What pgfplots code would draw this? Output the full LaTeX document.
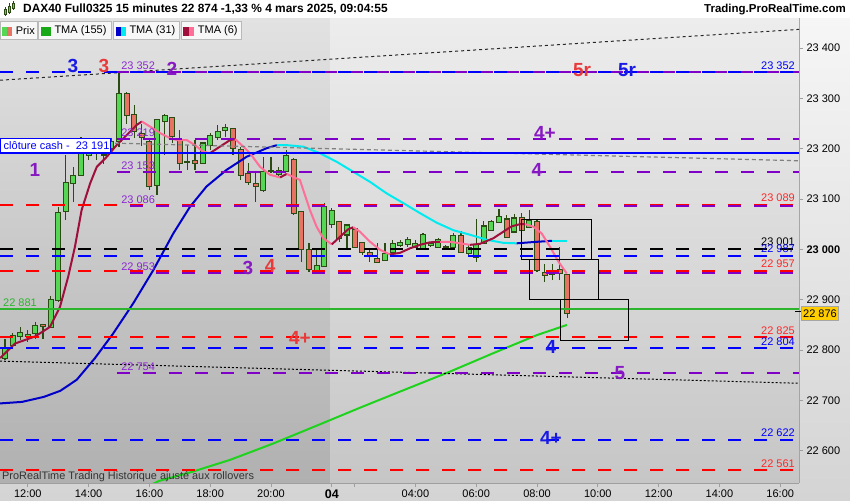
\documentclass[border=0pt]{standalone}
\usepackage{pgfplots}
\pgfplotsset{compat=1.18}
\usepackage{pgfplotstable}
\usepackage{fontspec}
\setmainfont{Liberation Sans}
\definecolor{lvblue}{RGB}{0,0,255}
\definecolor{lvred}{RGB}{255,0,0}
\definecolor{lvpurple}{RGB}{128,0,200}
\definecolor{txblue}{RGB}{25,25,230}
\definecolor{txred}{RGB}{232,58,58}
\definecolor{txpurple}{RGB}{135,25,195}
\definecolor{lbpurple}{RGB}{140,40,210}
\definecolor{lbred}{RGB}{255,40,40}
\definecolor{lvgreen}{RGB}{45,180,45}
\definecolor{wick}{RGB}{42,75,18}
\definecolor{cgreen}{RGB}{85,215,85}
\definecolor{cred}{RGB}{230,115,100}
\definecolor{tmagreen}{RGB}{30,210,30}
\definecolor{tmablue}{RGB}{0,0,200}
\definecolor{tmacyan}{RGB}{0,235,240}
\definecolor{tmamar}{RGB}{160,15,60}
\definecolor{tmapink}{RGB}{255,110,150}
\definecolor{pricebox}{RGB}{255,205,0}
\definecolor{bgtop}{RGB}{246,246,246}
\definecolor{bgbot}{RGB}{212,212,212}
\definecolor{bgLtop}{RGB}{226,226,226}
\definecolor{bgLbot}{RGB}{176,176,176}
\definecolor{bgRtop}{RGB}{237,237,237}
\definecolor{bgRbot}{RGB}{198,198,198}
\newcommand{\fsm}{\fontsize{11}{13}\selectfont}
\newcommand{\fbig}{\fontsize{19}{20}\selectfont\bfseries}

\pgfplotstableread{
X O H L C
11.25 22784 22822 22780 22804
11.50 22809 22834 22804 22828
11.75 22827 22846 22820 22834
12.00 22827 22840 22815 22831
12.25 22834 22856 22823 22848
12.75 22846 22907 22846 22901
13.00 22899 23085 22896 23073
13.25 23075 23187 23058 23132
13.50 23132 23164 23095 23146
13.75 23148 23224 23147 23203
14.00 23187 23201 23178 23193
14.25 23193 23213 23177 23199
14.75 23201 23221 23197 23213
15.00 23214 23352 23204 23310
16.25 23128 23259 23108 23257
16.50 23254 23269 23187 23265
17.75 23171 23214 23170 23211
18.00 23207 23231 23197 23225
18.25 23222 23247 23217 23233
18.50 23237 23250 23224 23241
19.75 23118 23184 23115 23154
20.00 23156 23184 23151 23157
20.25 23150 23164 23142 23156
20.50 23156 23197 23154 23187
21.50 22958 22999 22957 22967
21.75 22967 23092 22966 23084
22.00 23050 23082 23042 23077
22.50 23029 23049 23002 23048
23.75 22979 23012 22976 22992
24.00 22995 23019 22992 23011
24.25 23009 23019 23005 23013
24.50 23011 23025 23005 23019
24.75 23004 23019 23003 23011
25.00 23000 23032 22999 23029
25.25 23009 23015 23005 23012
25.50 23005 23022 23002 23019
25.75 23005 23009 22999 23006
26.00 23004 23032 23002 23027
26.50 22992 23009 22987 23004
26.75 22985 23060 22974 23009
27.00 23013 23057 23012 23046
27.25 23038 23058 23037 23054
27.50 23054 23080 23052 23064
28.00 23035 23070 23033 23062
28.50 23044 23078 23042 23057
29.25 22951 22971 22939 22956
}\upcandles

\pgfplotstableread{
X O H L C
12.50 22851 22852 22821 22847
14.50 23195 23210 23170 23188
15.25 23310 23312 23250 23267
15.50 23267 23287 23221 23234
15.75 23230 23250 23205 23222
16.00 23214 23221 23118 23126
16.75 23262 23263 23211 23224
17.00 23217 23237 23158 23172
17.25 23174 23207 23158 23173
17.50 23176 23217 23158 23171
18.75 23239 23241 23187 23201
19.00 23197 23204 23138 23148
19.25 23150 23172 23128 23134
19.50 23131 23151 23095 23126
20.75 23179 23181 23068 23072
21.00 23074 23074 22974 23000
21.25 22999 23013 22956 22961
22.25 23055 23056 23015 23022
22.75 23040 23045 23002 23004
23.00 23014 23015 22989 22995
23.25 22994 22999 22976 22987
23.50 22982 23012 22972 22974
26.25 23027 23037 22995 22995
27.75 23060 23068 23024 23025
28.25 23062 23072 23035 23037
28.75 23055 23058 22956 22959
29.00 22954 22971 22936 22949
29.50 22959 23005 22939 22952
29.75 22949 22952 22864 22874
}\downcandles

\pgfplotsset{
  wickplot/.style={draw=none, mark=none, forget plot,
    error bars/.cd, y dir=both, y explicit, error mark=none,
    error bar style={draw=wick, line width=1.3pt, solid}},
  bodyout/.style={draw=none, mark=none, forget plot,
    error bars/.cd, y dir=both, y explicit, error mark=none,
    error bar style={draw=wick, line width=6pt, solid}},
  bodyin/.style={draw=none, mark=none, forget plot,
    error bars/.cd, y dir=both, y explicit, error mark=none,
    error bar style={draw=#1, line width=4pt, solid}},
  lvl/.style={line width=2pt, dash pattern=on 13pt off 13pt, forget plot},
}

\begin{document}
\begin{tikzpicture}
\useasboundingbox (0pt,0pt) rectangle (850pt,500pt);
\fill[white] (0pt,0pt) rectangle (850pt,500pt);
\shade[top color=bgtop, bottom color=bgbot] (0pt,0pt) rectangle (850pt,482pt);
\begin{axis}[
  at={(0pt,17pt)}, anchor=south west,
  width=799pt, height=465pt, scale only axis,
  xmin=11.0855, xmax=37.368, ymin=22535.9, ymax=23459.6,
  scaled y ticks=false, scaled x ticks=false,
  axis x line*=bottom, axis y line*=right,
  axis line style={draw=gray!75, line width=0.8pt, -},
  tick align=outside, major tick length=4pt,
  tick style={draw=gray!75, line width=0.8pt},
  xtick={12,14,16,18,20,22,24.75,26.75,28.75,30.75,32.75,34.75,36.75},
  xticklabels={12:00,14:00,16:00,18:00,20:00,{\fontsize{12.5}{13}\selectfont\bfseries 04},04:00,06:00,08:00,10:00,12:00,14:00,16:00},
  extra x ticks={22.75}, extra x tick labels={},
  ytick={22600,22700,22800,22900,23000,23100,23200,23300,23400},
  yticklabels={22 600,22 700,22 800,22 900,\textbf{23 000},23 100,23 200,23 300,23 400},
  tick label style={font=\fsm, text=black},
  xticklabel style={yshift=1pt},
  clip=true,
]
% background
\shade[top color=bgLtop, bottom color=bgLbot] (11.0855,22535.9) rectangle (21.95,23459.6);
\shade[top color=bgRtop, bottom color=bgRbot] (21.95,22535.9) rectangle (37.368,23459.6);

% candles: wicks
\addplot[wickplot] table[x=X, y expr={(\thisrow{H}+\thisrow{L})/2}, y error expr={(\thisrow{H}-\thisrow{L})/2}] {\upcandles};
\addplot[wickplot] table[x=X, y expr={(\thisrow{H}+\thisrow{L})/2}, y error expr={(\thisrow{H}-\thisrow{L})/2}] {\downcandles};
% bodies
\addplot[bodyout] table[x=X, y expr={(\thisrow{O}+\thisrow{C})/2}, y error expr={abs(\thisrow{C}-\thisrow{O})/2+1.5}] {\upcandles};
\addplot[bodyout] table[x=X, y expr={(\thisrow{O}+\thisrow{C})/2}, y error expr={abs(\thisrow{C}-\thisrow{O})/2+1.5}] {\downcandles};
\addplot[bodyin=cgreen] table[x=X, y expr={(\thisrow{O}+\thisrow{C})/2}, y error expr={max(abs(\thisrow{C}-\thisrow{O})/2-0.6,0)}] {\upcandles};
\addplot[bodyin=cred] table[x=X, y expr={(\thisrow{O}+\thisrow{C})/2}, y error expr={max(abs(\thisrow{C}-\thisrow{O})/2-0.6,0)}] {\downcandles};

% TMA 155
\addplot[tmagreen, line width=2pt, forget plot] coordinates {(15.90,22528) (16.32,22540) (17.40,22558) (18.66,22582) (20.10,22615) (21.55,22651) (22.99,22687) (24.43,22722) (25.88,22757) (27.32,22794) (28.76,22830) (29.74,22850)};
% TMA 31
\addplot[tmablue, line width=2pt, forget plot] coordinates {(11.09,22694) (11.81,22697) (12.53,22707) (13.07,22719) (13.61,22741) (14.21,22784) (14.81,22833) (15.47,22893) (16.13,22959) (16.79,23032) (17.34,23085) (17.88,23125) (18.54,23158) (19.20,23184) (19.86,23201) (20.19,23207)};
\addplot[tmacyan, line width=2pt, forget plot] coordinates {(20.19,23207) (20.52,23207) (21.06,23204) (21.61,23191) (22.16,23174) (22.71,23154) (23.26,23134) (23.81,23111) (24.35,23092) (24.90,23072) (25.45,23053) (26.00,23038) (26.55,23029) (27.10,23019) (27.64,23013) (28.08,23012)};
\addplot[tmablue, line width=2pt, forget plot] coordinates {(28.08,23012) (28.74,23015) (29.24,23017)};
\addplot[tmacyan, line width=2pt, forget plot] coordinates {(29.24,23017) (29.73,23017)};
% TMA 6
\addplot[tmamar, line width=2pt, forget plot] coordinates {(11.09,22784) (11.58,22813) (12.24,22827) (12.73,22846) (13.06,22886) (13.33,22946) (13.55,23005) (13.77,23078) (14.05,23131) (14.27,23164) (14.60,23184) (14.92,23207) (15.25,23227) (15.58,23247) (15.75,23254)};
\addplot[tmapink, line width=2pt, forget plot] coordinates {(15.75,23254) (16.02,23244) (16.35,23231) (16.68,23221) (16.90,23217) (17.23,23217) (17.50,23207) (17.77,23194) (17.99,23191)};
\addplot[tmamar, line width=2pt, forget plot] coordinates {(17.99,23191) (18.32,23204) (18.65,23217) (18.82,23219)};
\addplot[tmapink, line width=2pt, forget plot] coordinates {(18.82,23219) (19.09,23204) (19.31,23191) (19.64,23164) (19.97,23148) (20.30,23143)};
\addplot[tmamar, line width=2pt, forget plot] coordinates {(20.30,23143) (20.52,23150)};
\addplot[tmapink, line width=2pt, forget plot] coordinates {(20.52,23150) (20.73,23144) (20.95,23138) (21.06,23118) (21.28,23078) (21.50,23045) (21.72,23022) (22.00,23010)};
\addplot[tmamar, line width=2pt, forget plot] coordinates {(22.00,23010) (22.27,23025) (22.54,23040) (22.71,23044)};
\addplot[tmapink, line width=2pt, forget plot] coordinates {(22.71,23044) (22.93,23035) (23.26,23015) (23.59,22999) (23.91,22990)};
\addplot[tmamar, line width=2pt, forget plot] coordinates {(23.91,22990) (24.24,22993) (24.57,23002) (24.90,23009) (25.23,23014) (25.56,23015)};
\addplot[tmapink, line width=2pt, forget plot] coordinates {(25.56,23015) (25.89,23015) (26.22,23012) (26.55,23009)};
\addplot[tmamar, line width=2pt, forget plot] coordinates {(26.55,23009) (26.87,23011) (27.31,23022) (27.64,23035) (27.92,23046) (28.19,23050) (28.36,23050)};
\addplot[tmapink, line width=2pt, forget plot] coordinates {(28.36,23050) (28.63,23045) (28.90,23032) (29.18,23005) (29.45,22976) (29.73,22952)};

% trend lines
\addplot[gray!30!black, line width=1pt, dash pattern=on 3pt off 3pt, forget plot] coordinates {(11.0855,23336) (37.368,23437)};
\addplot[gray, line width=1.2pt, dash pattern=on 4pt off 3pt, forget plot] coordinates {(14.87,23211) (37.368,23176)};
\addplot[black, line width=1pt, dash pattern=on 2pt off 2pt, forget plot] coordinates {(11.0855,22778) (37.368,22734)};

% level lines
\addplot[lvl, lvblue] coordinates {(11.0855,23352) (37.368,23352)};
\addplot[lvl, lvpurple, dash pattern=on 12pt off 14pt] coordinates {(14.934,23352) (37.368,23352)};
\addplot[lvl, lvpurple] coordinates {(14.934,23219) (37.368,23219)};
\addplot[lvblue, line width=2pt, forget plot] coordinates {(11.0855,23191) (37.368,23191)};
\addplot[lvl, lvpurple] coordinates {(14.934,23153) (37.368,23153)};
\addplot[lvl, lvred] coordinates {(11.0855,23089) (37.368,23089)};
\addplot[lvl, lvpurple, dash phase=13pt] coordinates {(14.934,23086) (37.368,23086)};
\addplot[lvl, black] coordinates {(11.0855,23001) (37.368,23001)};
\addplot[lvl, lvblue] coordinates {(11.0855,22987) (37.368,22987)};
\addplot[lvl, lvred] coordinates {(11.0855,22957) (37.368,22957)};
\addplot[lvl, lvpurple, dash phase=13pt] coordinates {(14.934,22953) (37.368,22953)};
\addplot[lvgreen, line width=2pt, forget plot] coordinates {(11.0855,22881) (37.368,22881)};
\addplot[lvl, lvred] coordinates {(11.0855,22825) (37.368,22825)};
\addplot[lvl, lvblue] coordinates {(11.0855,22804) (37.368,22804)};
\addplot[lvl, lvpurple] coordinates {(14.934,22754) (37.368,22754)};
\addplot[lvl, lvblue] coordinates {(11.0855,22622) (37.368,22622)};
\addplot[lvl, lvred] coordinates {(11.0855,22561) (37.368,22561)};

% boxes
\addplot[black, line width=0.9pt, forget plot] coordinates {(28.223,22980.8) (30.526,22980.8) (30.526,23060.3) (28.223,23060.3) (28.223,22980.8)};
\addplot[black, line width=0.9pt, forget plot] coordinates {(28.487,22901.4) (30.757,22901.4) (30.757,22980.8) (28.487,22980.8) (28.487,22901.4)};
\addplot[black, line width=0.9pt, forget plot] coordinates {(29.507,22820.0) (31.743,22820.0) (31.743,22901.4) (29.507,22901.4) (29.507,22820.0)};

% left purple level labels
\node[anchor=base west, lbpurple, font=\fsm, inner sep=0pt] at (15.07,23358) {23 352};
\node[anchor=base west, lbpurple, font=\fsm, inner sep=0pt] at (15.07,23225) {23 219};
\node[anchor=base west, lbpurple, font=\fsm, inner sep=0pt] at (15.07,23159) {23 153};
\node[anchor=base west, lbpurple, font=\fsm, inner sep=0pt] at (15.07,23092) {23 086};
\node[anchor=base west, lbpurple, font=\fsm, inner sep=0pt] at (15.07,22959) {22 953};
\node[anchor=base west, lbpurple, font=\fsm, inner sep=0pt] at (15.07,22760) {22 754};
\node[anchor=base west, lvgreen, font=\fsm, inner sep=0pt] at (11.184,22887) {22 881};
% right labels
\node[anchor=base east, lvblue, font=\fsm, inner sep=0pt] at (37.237,23358) {23 352};
\node[anchor=base east, lbred, font=\fsm, inner sep=0pt] at (37.237,23095) {23 089};
\node[anchor=base east, black, font=\fsm, inner sep=0pt] at (37.237,23007) {23 001};
\node[anchor=base east, lvblue, font=\fsm, inner sep=0pt] at (37.237,22993) {22 987};
\node[anchor=base east, lbred, font=\fsm, inner sep=0pt] at (37.237,22963) {22 957};
\node[anchor=base east, lbred, font=\fsm, inner sep=0pt] at (37.237,22831) {22 825};
\node[anchor=base east, lvblue, font=\fsm, inner sep=0pt] at (37.237,22810) {22 804};
\node[anchor=base east, lvblue, font=\fsm, inner sep=0pt] at (37.237,22628) {22 622};
\node[anchor=base east, lbred, font=\fsm, inner sep=0pt] at (37.237,22567) {22 561};

% big annotations
\node[txblue, font=\fbig] at (13.487,23364) {3};
\node[txred, font=\fbig] at (14.507,23364) {3};
\node[txpurple, font=\fbig] at (16.743,23358) {2};
\node[txred, font=\fbig] at (30.23,23356) {5r};
\node[txblue, font=\fbig] at (31.71,23356) {5r};
\node[txpurple, font=\fbig] at (29.01,23231) {4+};
\node[txpurple, font=\fbig] at (28.75,23158) {4};
\node[txpurple, font=\fbig] at (12.237,23158) {1};
\node[txpurple, font=\fbig] at (19.24,22963) {3};
\node[txred, font=\fbig] at (19.97,22967) {4};
\node[txred, font=\fbig] at (20.95,22824) {4+};
\node[txblue, font=\fbig] at (29.21,22806) {4};
\node[txpurple, font=\fbig] at (31.48,22754) {5};
\node[txblue, font=\fbig] at (29.21,22625) {4+};
\end{axis}

\begin{scope}[x=1pt,y=1pt]
% title bar
\fill[white] (0,482) rectangle (850,500);
% icon
\draw[wick, line width=0.8pt] (5,484) -- (5,493) (9,486) -- (9,497) (13,490) -- (13,499);
\fill[cgreen, draw=wick, line width=0.4pt] (3.8,486) rectangle (6.2,491);
\fill[cgreen, draw=wick, line width=0.4pt] (7.8,488) rectangle (10.2,494);
\fill[cgreen, draw=wick, line width=0.4pt] (11.8,492) rectangle (14.2,497);
\node[anchor=west, inner sep=0pt, font=\fontsize{11.9}{13}\selectfont\bfseries] at (23,490.5) {DAX40 Full0325 15 minutes 22 874 -1,33 \% 4 mars 2025, 09:04:55};
\node[anchor=east, inner sep=0pt, font=\fontsize{11.5}{13}\selectfont\bfseries] at (846,490.5) {Trading.ProRealTime.com};
% legend boxes
\draw[fill=white!97!black, draw=gray!55] (0,460.7) rectangle (36.7,478.3);
\draw[fill=white!97!black, draw=gray!55] (37.7,460.7) rectangle (111,478.3);
\draw[fill=white!97!black, draw=gray!55] (113.3,460.7) rectangle (179.3,478.3);
\draw[fill=white!97!black, draw=gray!55] (181,460.7) rectangle (240.7,478.3);
\fill[cgreen] (1.7,464.3) rectangle (6.7,473.3);
\fill[cred] (6.7,464.3) rectangle (12.3,473.3);
\fill[tmagreen!80!black] (40.7,464.3) rectangle (50.7,473.3);
\fill[tmablue] (116,464.3) rectangle (120.7,473.3);
\fill[tmacyan] (120.7,464.3) rectangle (126,473.3);
\fill[tmamar] (183.3,464.3) rectangle (188.6,473.3);
\fill[tmapink] (188.6,464.3) rectangle (194,473.3);
\node[anchor=west, inner sep=0pt, font=\fsm] at (15.7,469.3) {Prix};
\node[anchor=west, inner sep=0pt, font=\fsm] at (54.3,469.3) {TMA (155)};
\node[anchor=west, inner sep=0pt, font=\fsm] at (129.3,469.3) {TMA (31)};
\node[anchor=west, inner sep=0pt, font=\fsm] at (197.7,469.3) {TMA (6)};
% cloture cash box
\draw[fill=white, draw=lvblue, line width=1pt] (0.5,347.7) rectangle (110,361);
\node[anchor=west, inner sep=0pt, lvblue, font=\fsm] at (3.5,354.3) {clôture cash -\ \ 23 191};
% price tag
\draw[black, line width=1pt] (795,188.1) -- (801,188.1);
\draw[fill=pricebox, draw=gray!70] (801,179.3) rectangle (838.5,193.3);
\node[anchor=west, inner sep=0pt, font=\fsm] at (803,186.3) {22 876};
% footer
\node[anchor=west, inner sep=0pt, text=black!80, font=\fontsize{10.9}{12}\selectfont] at (2,23) {ProRealTime Trading Historique ajusté aux rollovers};
\end{scope}
\end{tikzpicture}
\end{document}
